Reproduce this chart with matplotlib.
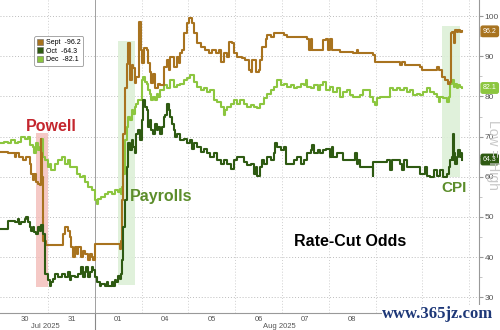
import numpy as np
import matplotlib
matplotlib.use("Agg")
import matplotlib.pyplot as plt
import matplotlib.transforms as mtransforms
from matplotlib.patches import Patch, Rectangle

plt.rcParams['font.family'] = ['Liberation Sans', 'DejaVu Sans']

# ========== data (x = trading-session index, Jul 30 = 0) ==========
sept_x = [0.00, 0.14, 0.29, 0.32, 0.39, 0.46, 0.54, 0.61, 0.64, 0.68, 0.71, 0.75, 0.79, 0.82, 0.84, 0.86,
          0.88, 0.90, 0.96, 1.29, 1.32, 1.36, 1.43, 1.46, 1.50, 1.54, 1.57, 1.61, 1.64, 1.71, 1.75, 1.79,
          1.86, 1.89, 1.93, 1.96, 2.00, 2.54, 2.57, 2.59, 2.61, 2.64, 2.68, 2.71, 2.75, 2.79, 2.82, 2.86,
          2.89, 2.94, 2.98, 3.01, 3.06, 3.11, 3.14, 3.18, 3.21, 3.25, 3.29, 3.36, 3.40, 3.47, 3.54, 3.58,
          3.61, 3.69, 3.76, 3.79, 3.83, 3.86, 3.90, 3.97, 4.01, 4.08, 4.11, 4.19, 4.26, 4.36, 4.44, 4.51,
          4.58, 4.65, 4.69, 4.76, 4.83, 4.86, 4.94, 4.97, 5.04, 5.15, 5.22, 5.29, 5.33, 5.36, 5.44, 5.51,
          5.54, 5.58, 5.65, 5.69, 5.76, 5.83, 5.97, 6.04, 6.11, 6.26, 6.54, 6.58, 6.61, 6.65, 6.81, 6.88,
          6.95, 6.99, 7.02, 7.06, 7.24, 7.52, 7.60, 7.63, 7.95, 7.99, 8.52, 8.56, 8.63, 8.95, 8.99, 9.27,
          9.31, 9.35, 9.42, 9.49, 9.54, 9.58, 9.61, 9.63, 9.67, 9.70, 9.74, 9.77, 9.81, 9.85]
sept_y = [66.2, 65.8, 64.9, 65.8, 64.9, 64.1, 64.9, 63.3, 60.8, 59.1, 60.8, 58.7, 58.3, 57.9, 69.5, 66.0,
          60.0, 44.1, 43.0, 43.0, 45.8, 47.5, 46.6, 44.9, 42.5, 40.0, 42.5, 40.8, 42.5, 40.0, 41.6, 40.8,
          39.2, 40.8, 40.0, 39.2, 43.3, 42.1, 44.1, 54.1, 70.7, 82.0, 88.0, 93.3, 84.0, 87.8, 87.0, 83.3,
          84.9, 98.6, 91.5, 88.2, 92.0, 91.5, 88.3, 86.1, 83.3, 85.7, 82.0, 83.2, 82.8, 87.4, 89.0, 86.5,
          89.9, 87.4, 89.9, 88.2, 90.7, 91.5, 95.7, 98.2, 99.4, 98.2, 95.7, 93.2, 92.4, 91.5, 90.7, 91.5,
          90.7, 91.5, 88.6, 90.7, 89.9, 93.6, 93.2, 90.7, 89.9, 89.5, 89.0, 86.5, 86.1, 89.0, 86.1, 86.5,
          89.0, 92.4, 94.4, 95.3, 94.9, 95.7, 95.7, 95.3, 94.9, 94.9, 94.4, 91.5, 94.4, 91.5, 91.5, 94.0,
          94.4, 91.5, 94.4, 91.5, 91.1, 90.7, 91.5, 90.7, 90.3, 88.6, 87.8, 88.6, 87.8, 87.4, 86.5, 86.5,
          87.4, 86.5, 84.9, 84.0, 83.2, 83.6, 95.7, 96.1, 93.2, 96.5, 96.1, 96.5, 96.1, 96.2]

oct_x = [0.00, 0.11, 0.14, 0.25, 0.29, 0.36, 0.39, 0.43, 0.50, 0.54, 0.57, 0.61, 0.64, 0.68, 0.71, 0.75,
         0.79, 0.82, 0.86, 0.89, 0.93, 1.00, 1.04, 1.07, 1.11, 1.14, 1.21, 1.29, 1.36, 1.43, 1.46, 1.50,
         1.57, 1.64, 1.71, 1.75, 1.79, 1.82, 1.86, 1.89, 1.93, 1.96, 2.00, 2.04, 2.11, 2.14, 2.21, 2.25,
         2.29, 2.36, 2.39, 2.43, 2.46, 2.50, 2.54, 2.57, 2.59, 2.61, 2.64, 2.68, 2.71, 2.75, 2.79, 2.82,
         2.86, 2.89, 2.93, 2.96, 3.00, 3.04, 3.07, 3.11, 3.14, 3.18, 3.21, 3.25, 3.29, 3.32, 3.36, 3.40,
         3.44, 3.47, 3.51, 3.54, 3.58, 3.61, 3.65, 3.69, 3.72, 3.76, 3.83, 3.90, 3.97, 4.04, 4.08, 4.11,
         4.19, 4.26, 4.33, 4.40, 4.47, 4.54, 4.61, 4.69, 4.76, 4.83, 4.90, 4.97, 5.04, 5.11, 5.19, 5.26,
         5.33, 5.40, 5.44, 5.47, 5.54, 5.58, 5.61, 5.69, 5.76, 5.83, 5.86, 5.90, 5.97, 6.04, 6.08, 6.15,
         6.26, 6.33, 6.40, 6.47, 6.54, 6.61, 6.65, 6.69, 6.76, 6.81, 6.88, 6.95, 7.02, 7.06, 7.10, 7.17,
         7.31, 7.52, 7.56, 7.60, 7.63, 7.67, 7.92, 7.94, 7.95, 8.24, 8.31, 8.35, 8.52, 8.56, 8.60, 8.67,
         8.88, 8.95, 9.02, 9.06, 9.10, 9.17, 9.24, 9.31, 9.38, 9.45, 9.52, 9.56, 9.60, 9.63, 9.65, 9.66,
         9.68, 9.70, 9.74, 9.77, 9.81, 9.83, 9.85]
oct_y = [47.0, 47.0, 49.1, 49.1, 48.7, 49.5, 48.3, 48.7, 49.5, 50.0, 48.7, 47.5, 46.6, 47.5, 46.2, 45.8,
         47.5, 46.6, 47.9, 45.8, 35.8, 34.2, 32.9, 33.8, 34.6, 35.8, 35.0, 35.8, 35.0, 36.3, 34.2, 35.4,
         35.0, 35.8, 37.5, 35.0, 36.3, 37.5, 35.0, 36.3, 37.5, 36.7, 35.0, 33.8, 32.9, 33.3, 32.9, 33.8,
         32.9, 33.8, 32.9, 34.2, 33.8, 35.4, 34.6, 35.8, 39.2, 47.5, 54.1, 62.4, 68.3, 66.6, 69.1, 67.4,
         65.8, 70.7, 71.6, 69.1, 74.1, 79.1, 77.4, 76.6, 72.4, 74.1, 71.6, 70.7, 73.2, 71.6, 72.4, 70.7,
         72.4, 74.9, 75.3, 78.2, 76.6, 74.9, 73.2, 71.6, 69.9, 70.7, 69.1, 69.5, 68.3, 69.1, 67.0, 68.3,
         67.4, 66.2, 67.0, 65.8, 64.9, 65.8, 64.1, 63.3, 64.1, 63.3, 62.0, 64.1, 64.9, 64.9, 63.7, 62.9,
         63.3, 60.8, 62.4, 60.3, 62.4, 64.1, 63.3, 64.9, 64.1, 65.8, 68.3, 67.4, 66.6, 67.4, 63.3, 63.3,
         64.1, 64.9, 63.3, 64.1, 65.8, 66.6, 67.8, 65.8, 66.6, 65.8, 66.6, 67.0, 64.9, 67.4, 64.9, 65.8,
         64.1, 64.1, 65.8, 63.3, 64.1, 62.4, 62.4, 60.3, 63.7, 64.1, 61.6, 64.1, 63.3, 61.6, 64.1, 62.4,
         62.4, 60.8, 60.8, 62.4, 60.3, 59.9, 61.6, 60.3, 61.6, 59.9, 60.8, 62.4, 64.1, 64.9, 64.1, 70.7,
         65.8, 63.3, 64.9, 66.6, 64.9, 65.8, 64.3]

dec_x = [0.00, 0.07, 0.14, 0.21, 0.29, 0.36, 0.43, 0.50, 0.57, 0.61, 0.68, 0.71, 0.75, 0.79, 0.82, 0.86,
         0.87, 0.89, 0.93, 1.00, 1.04, 1.07, 1.14, 1.21, 1.29, 1.36, 1.43, 1.46, 1.54, 1.61, 1.68, 1.75,
         1.79, 1.86, 1.93, 2.00, 2.04, 2.07, 2.14, 2.21, 2.29, 2.36, 2.43, 2.50, 2.54, 2.57, 2.59, 2.61,
         2.64, 2.68, 2.71, 2.75, 2.79, 2.82, 2.86, 2.89, 2.93, 3.00, 3.04, 3.07, 3.11, 3.14, 3.18, 3.21,
         3.25, 3.29, 3.32, 3.36, 3.40, 3.47, 3.54, 3.61, 3.69, 3.76, 3.83, 3.90, 3.97, 4.04, 4.11, 4.19,
         4.26, 4.33, 4.40, 4.47, 4.54, 4.61, 4.69, 4.76, 4.79, 4.83, 4.90, 4.97, 5.04, 5.11, 5.19, 5.26,
         5.33, 5.40, 5.47, 5.54, 5.61, 5.69, 5.76, 5.83, 5.90, 5.97, 6.04, 6.11, 6.19, 6.26, 6.33, 6.40,
         6.47, 6.51, 6.54, 6.61, 6.69, 6.76, 6.81, 6.88, 6.95, 7.02, 7.10, 7.17, 7.24, 7.31, 7.38, 7.45,
         7.52, 7.67, 7.74, 7.88, 7.95, 7.99, 8.02, 8.10, 8.24, 8.31, 8.38, 8.45, 8.52, 8.60, 8.67, 8.74,
         8.81, 8.88, 8.95, 9.02, 9.10, 9.17, 9.24, 9.31, 9.35, 9.38, 9.45, 9.52, 9.56, 9.60, 9.63, 9.67,
         9.70, 9.74, 9.77, 9.81, 9.85]
dec_y = [68.3, 68.7, 68.3, 69.1, 68.3, 68.7, 69.9, 69.5, 69.9, 67.8, 67.4, 65.8, 68.3, 66.6, 67.4, 69.1,
         69.5, 64.9, 64.1, 62.4, 63.3, 61.6, 63.3, 64.1, 64.9, 63.3, 64.1, 62.4, 62.4, 60.8, 59.9, 60.3,
         58.7, 57.4, 56.6, 54.1, 53.3, 54.5, 54.9, 55.8, 56.2, 55.8, 56.6, 56.2, 57.0, 55.8, 57.4, 60.8,
         69.1, 72.4, 74.9, 74.1, 76.6, 75.7, 77.4, 78.2, 79.1, 84.0, 84.9, 83.6, 83.2, 81.6, 80.7, 79.1,
         79.9, 79.1, 80.7, 79.9, 81.6, 82.8, 82.0, 84.0, 82.4, 82.8, 83.2, 84.0, 84.5, 85.3, 83.6, 82.4,
         81.6, 82.0, 81.1, 81.6, 79.1, 78.6, 77.4, 75.3, 76.6, 77.4, 78.2, 79.1, 78.2, 79.1, 78.2, 77.4,
         77.8, 77.4, 77.0, 78.2, 79.5, 80.7, 81.6, 82.4, 84.0, 82.8, 83.2, 82.4, 82.8, 82.0, 82.4, 83.2,
         82.8, 84.0, 82.4, 82.0, 82.8, 81.6, 82.8, 83.6, 81.6, 82.4, 81.1, 82.0, 79.9, 81.1, 81.6, 80.3,
         79.9, 80.3, 81.6, 79.9, 78.6, 77.8, 79.5, 79.9, 79.9, 82.0, 81.6, 82.0, 81.6, 82.0, 81.1, 81.6,
         80.3, 80.7, 80.3, 81.1, 82.0, 81.1, 80.7, 79.9, 78.6, 79.9, 79.5, 78.6, 79.9, 83.2, 84.0, 82.4,
         83.2, 82.0, 82.8, 82.4, 82.1]

series_names = ['Sept', 'Oct', 'Dec']
last_values = [96.2, 64.3, 82.1]
# 11 / 12 sit under the site watermark in the original, so only the visible days are labelled
day_labels = ['30', '31', '01', '04', '05', '06', '07', '08']
month_labels = ['Jul 2025', 'Aug 2025']
y_ticks = [30, 40, 50, 60, 70, 80, 90, 100]

# ========== styles ==========
C_SEPT = '#A8731F'
C_OCT = '#2E5A12'
C_DEC = '#8CC63F'
C_RED = '#C4262E'
C_GRN = '#5C8D2B'
colors = [C_SEPT, C_OCT, C_DEC]

fig = plt.figure(figsize=(5, 3.3), dpi=100)
ax = fig.add_axes([0, 17 / 330, 479 / 500, 313 / 330])
ax.set_xlim(-0.026, 10.21)
ax.set_ylim(26.1, 104)

# event shading
ax.add_patch(Rectangle((0.74, 32.6), 0.26, 38.3, facecolor='#F2B8B4', alpha=0.75, lw=0, zorder=1))
ax.add_patch(Rectangle((2.50, 33.0), 0.36, 60.8, facecolor='#DDF0D8', alpha=0.9, lw=0, zorder=1))
ax.add_patch(Rectangle((9.42, 60.0), 0.38, 37.5, facecolor='#DDF0D8', alpha=0.9, lw=0, zorder=1))

# lines
for xs, ys, c in [(dec_x, dec_y, C_DEC), (sept_x, sept_y, C_SEPT), (oct_x, oct_y, C_OCT)]:
    ax.plot(xs, ys, drawstyle='steps-post', color=c, lw=1.5, zorder=3)

# grid
for v in y_ticks:
    ax.axhline(v, color='#bdbdbd', lw=0.7, ls=(0, (1, 2)), zorder=0)
for d in range(1, 11):
    ax.axvline(d, color='#cfcfcf' if d != 2 else '#a0a0a0', lw=0.7,
               ls=(0, (1, 2)) if d != 2 else '-', zorder=0)

# axes / ticks
for s in ['top', 'left']:
    ax.spines[s].set_visible(False)
ax.spines['bottom'].set_color('#999999')
ax.spines['right'].set_color('#999999')
ax.yaxis.tick_right()
ax.set_yticks(y_ticks)
ax.set_yticks(np.arange(35, 100, 10), minor=True)
ax.tick_params(axis='y', which='major', labelsize=6, colors='#999999', labelcolor='#555555',
               length=3, pad=1)
ax.tick_params(axis='y', which='minor', length=2, colors='#bbbbbb')
ax.set_xticks([i + 0.5 for i in range(len(day_labels))])
ax.set_xticklabels(day_labels, fontsize=5.5, color='#555555')
ax.tick_params(axis='x', length=0, pad=2)

# month labels + separator below the axis
trans = mtransforms.blended_transform_factory(ax.transData, ax.transAxes)
ax.text(0.95, -0.032, month_labels[0], transform=trans, ha='center', va='top', fontsize=5.5, color='#555555')
ax.text(5.95, -0.032, month_labels[1], transform=trans, ha='center', va='top', fontsize=5.5, color='#555555')
ax.plot([2, 2], [0, -0.06], transform=trans, color='#888888', lw=0.8, clip_on=False)

# last-value tags on the right
ytrans = mtransforms.blended_transform_factory(ax.transAxes, ax.transData)
for v, c in zip(last_values, colors):
    ax.text(1.008, v, f'{v:.1f}', transform=ytrans, ha='left', va='center', fontsize=5, color='white',
            bbox=dict(boxstyle='round,pad=0.25', facecolor=c, edgecolor=c), zorder=5, clip_on=False)

# legend
handles = [Patch(facecolor=c, edgecolor='#666666', lw=0.4) for c in colors]
labels = [f'{n}  -{v}' for n, v in zip(series_names, last_values)]
leg = ax.legend(handles, labels, loc='upper left', bbox_to_anchor=(0.064, 0.895), fontsize=5,
                handlelength=0.9, handleheight=0.9, handletextpad=0.4, labelspacing=0.15,
                borderpad=0.4, frameon=True, fancybox=True, framealpha=1, edgecolor='#999999')
leg.get_frame().set_linewidth(0.6)

# annotations
ax.text(1.06, 72.6, 'Powell', color=C_RED, fontsize=11.5, fontweight='bold', ha='center', va='center')
ax.text(3.41, 55.0, 'Payrolls', color=C_GRN, fontsize=11.5, fontweight='bold', ha='center', va='center')
ax.text(9.68, 57.2, 'CPI', color=C_GRN, fontsize=11, fontweight='bold', ha='center', va='center')
ax.text(7.45, 44.0, 'Rate-Cut Odds', color='black', fontsize=11.5, fontweight='bold', ha='center', va='center')

fig.text(0.986, 0.53, 'Low = High', rotation=270, fontsize=10, color='#c8c8c8', ha='center', va='center')
fig.text(0.876, 0.048, 'www.365jz.com', family='Liberation Serif', fontweight='bold', fontsize=12,
         color='#1E3878', ha='center', va='center',
         bbox=dict(facecolor='white', edgecolor='none', pad=0.5))

fig.savefig('out.png', dpi=100)
